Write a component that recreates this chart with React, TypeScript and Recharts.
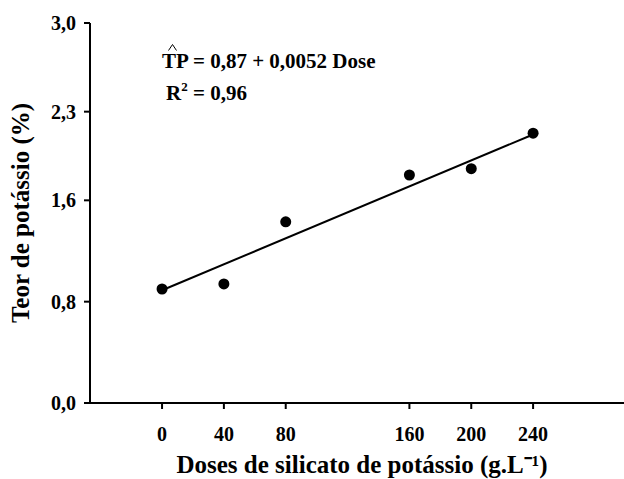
import React from 'react';
import { ComposedChart, Scatter, Line, XAxis, YAxis, Label } from 'recharts';

// Doses de silicato de potássio (g.L-1)
const doses = [0, 40, 80, 160, 200, 240];
// Teor de potássio (%) observado
const teor = [0.9, 0.94, 1.43, 1.8, 1.85, 2.13];
// reta ajustada: extremos
const fitDoses = [0, 240];
const fitTeor = [0.89, 2.12];

const xTicks = [0, 40, 80, 160, 200, 240];
const yTicks = [0, 0.8, 1.6, 2.3, 3.0];

const FONT = "'Liberation Serif', 'Times New Roman', serif";

const points = doses.map((d, i) => ({ x: d, y: teor[i] }));
const fit = fitDoses.map((d, i) => ({ x: d, y: fitTeor[i] }));

const Dot = (props: any) => {
  const { cx, cy } = props;
  return <circle cx={cx} cy={cy} r={5.5} fill="#000" />;
};

const App: React.FC = () => {
  return (
    <div style={{ position: 'absolute', left: 0, top: 0, width: 624, height: 479, background: '#fff' }}>
      <ComposedChart width={624} height={479} margin={{ top: 23, right: 0, left: 0, bottom: 0 }}>
        <XAxis
          dataKey="x"
          type="number"
          domain={[-46.6, 298.8]}
          ticks={xTicks}
          allowDataOverflow
          height={76}
          stroke="#000"
          strokeWidth={2}
          tickSize={6}
          tickMargin={18}
          tick={{ fill: '#000', fontFamily: FONT, fontWeight: 'bold', fontSize: 20, dy: 0 }}
        >
          <Label
            value="Doses de silicato de potássio (g.L⁻¹)"
            position="insideBottom"
            offset={6}
            dx={5}
            style={{ fill: '#000', fontFamily: FONT, fontWeight: 'bold', fontSize: 25 }}
          />
        </XAxis>
        <YAxis
          type="number"
          domain={[0, 3]}
          ticks={yTicks}
          width={90}
          stroke="#000"
          strokeWidth={2}
          tickSize={6}
          tickMargin={8}
          tickFormatter={(v: number) => v.toFixed(1).replace('.', ',')}
          tick={{ fill: '#000', fontFamily: FONT, fontWeight: 'bold', fontSize: 20 }}
        >
          <Label
            value="Teor de potássio (%)"
            angle={-90}
            position="insideLeft"
            offset={20}
            style={{ textAnchor: 'middle', fill: '#000', fontFamily: FONT, fontWeight: 'bold', fontSize: 25 }}
          />
        </YAxis>
        <Line
          data={fit}
          dataKey="y"
          stroke="#000"
          strokeWidth={2}
          dot={false}
          activeDot={false}
          isAnimationActive={false}
        />
        <Scatter data={points} dataKey="y" fill="#000" shape={<Dot />} isAnimationActive={false} />
      </ComposedChart>
      <div
        style={{
          position: 'absolute',
          left: 162,
          top: 45,
          fontFamily: FONT,
          fontWeight: 'bold',
          fontSize: 21,
          color: '#000',
          lineHeight: '32px',
          whiteSpace: 'nowrap',
        }}
      >
        <div style={{ position: 'relative' }}>
          <svg width={9} height={7} style={{ position: 'absolute', left: 6, top: -1 }}>
            <polyline points="0.5,6.5 4.5,0.5 8.5,6.5" fill="none" stroke="#000" strokeWidth={1} />
          </svg>
          TP = 0,87 + 0,0052 Dose
        </div>
        <div style={{ paddingLeft: 4 }}>
          R<span style={{ fontSize: 13, position: 'relative', top: -9 }}>2</span> = 0,96
        </div>
      </div>
    </div>
  );
};

export default App;
